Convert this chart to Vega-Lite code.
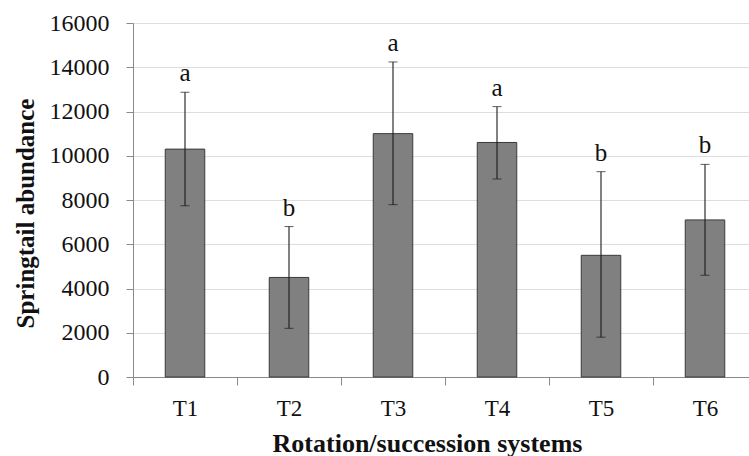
{
  "$schema": "https://vega.github.io/schema/vega-lite/v6.json",
  "autosize": {"type": "none"},
  "padding": {"left": 133, "top": 23, "right": 0, "bottom": 79},
  "width": 624,
  "height": 354,
  "background": "white",
  "config": {
    "view": {"stroke": null},
    "font": "Liberation Serif",
    "axis": {
      "labelFont": "Liberation Serif",
      "titleFont": "Liberation Serif",
      "labelColor": "#111111",
      "titleColor": "#111111",
      "tickColor": "#8a8a8a",
      "domainColor": "#8a8a8a",
      "titleFontWeight": "bold"
    },
    "axisX": {
      "labelAngle": 0,
      "tickBand": "extent",
      "tickSize": 8,
      "labelFontSize": 23,
      "labelBaseline": "alphabetic",
      "labelPadding": 30,
      "titleFontSize": 26,
      "titleBaseline": "alphabetic",
      "titleX": 294,
      "titleY": 74,
      "titleAnchor": "middle",
      "grid": false
    },
    "axisY": {
      "tickSize": 7,
      "gridColor": "#dedede",
      "gridWidth": 1.2,
      "labelFontSize": 24,
      "labelPadding": 17,
      "titleFontSize": 25,
      "titleBaseline": "alphabetic",
      "titleAlign": "center",
      "titleX": -100,
      "titleY": 190
    }
  },
  "data": {
    "values": [
      {"system": "T1", "mean": 10300, "lower": 7740, "upper": 12870, "group": "a"},
      {"system": "T2", "mean": 4500, "lower": 2200, "upper": 6800, "group": "b"},
      {"system": "T3", "mean": 11000, "lower": 7790, "upper": 14240, "group": "a"},
      {"system": "T4", "mean": 10600, "lower": 8950, "upper": 12220, "group": "a"},
      {"system": "T5", "mean": 5500, "lower": 1800, "upper": 9280, "group": "b"},
      {"system": "T6", "mean": 7100, "lower": 4600, "upper": 9610, "group": "b"}
    ]
  },
  "encoding": {
    "x": {
      "field": "system",
      "type": "nominal",
      "title": "Rotation/succession systems",
      "scale": {"paddingInner": 0, "paddingOuter": 0}
    }
  },
  "layer": [
    {
      "mark": {"type": "bar", "width": {"band": 0.38}, "fill": "#808080", "stroke": "#3a3a3a", "strokeWidth": 1},
      "encoding": {
        "y": {
          "field": "mean",
          "type": "quantitative",
          "title": "Springtail abundance",
          "scale": {"domain": [0, 16000], "nice": false},
          "axis": {
            "values": [0, 2000, 4000, 6000, 8000, 10000, 12000, 14000, 16000],
            "format": "d"
          }
        }
      }
    },
    {
      "mark": {
        "type": "errorbar",
        "ticks": {"size": 9, "color": "#1a1a1a", "strokeWidth": 1.2},
        "rule": {"color": "#1a1a1a", "strokeWidth": 1.1}
      },
      "encoding": {
        "y": {"field": "lower", "type": "quantitative", "title": "Springtail abundance"},
        "y2": {"field": "upper"}
      }
    },
    {
      "mark": {"type": "text", "baseline": "alphabetic", "dy": -11, "fontSize": 25, "font": "Liberation Serif", "color": "#111111"},
      "encoding": {
        "y": {"field": "upper", "type": "quantitative", "title": "Springtail abundance"},
        "text": {"field": "group"}
      }
    }
  ]
}
